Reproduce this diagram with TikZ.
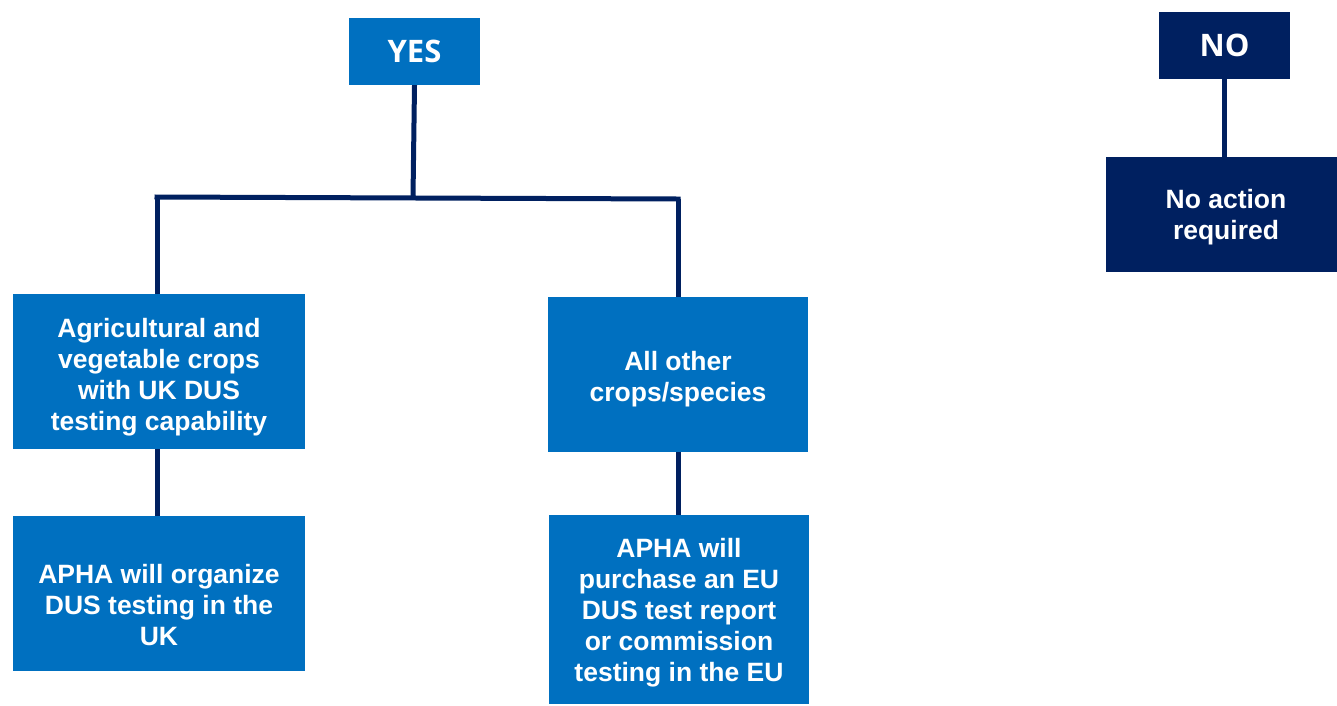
\documentclass[tikz,border=0pt]{standalone}
\usepackage{fontspec}
\setmainfont{Liberation Sans}
\newfontfamily\hdfont{Open Sans}
\definecolor{midblue}{HTML}{0070C0}
\definecolor{navy}{HTML}{002060}
\begin{document}
\begin{tikzpicture}[x=1pt,y=-1pt,
  box/.style={draw=none,fill=midblue,inner sep=0pt},
  navybox/.style={box,fill=navy},
  lbl/.style={text=white,font=\fontsize{26.5}{31}\selectfont\bfseries,align=center,inner sep=0pt},
  hd/.style={text=white,font=\hdfont\fontsize{31}{36}\selectfont\bfseries,inner sep=0pt},
  conn/.style={draw=navy,line width=5pt}]
\useasboundingbox (0,0) rectangle (1337,705);
\node[box,minimum width=131pt,minimum height=67pt,label={[hd]center:YES}] (yes) at (414.5,51.5) {};
\node[navybox,minimum width=131pt,minimum height=67pt,label={[hd]center:NO}] (no) at (1224.5,45.5) {};
\node[navybox,minimum width=240pt,minimum height=115pt,label={[lbl,yshift=-3pt]center:{No action\\required}}] (noact) at (1226,214.5) {};
\node[box,minimum width=292pt,minimum height=155pt,label={[lbl,yshift=-6pt]center:{Agricultural and\\vegetable crops\\with UK DUS\\testing capability}}] (agri) at (159,371.5) {};
\node[box,minimum width=292pt,minimum height=155pt,label={[lbl,yshift=-12pt]center:{APHA will organize\\DUS testing in the\\UK}}] (org) at (159,593.5) {};
\node[box,minimum width=260pt,minimum height=155pt,label={[lbl,yshift=-5pt]center:{All other\\crops/species}}] (other) at (678,374.5) {};
\node[box,minimum width=260pt,minimum height=189pt,label={[lbl,yshift=-3pt]center:{APHA will\\purchase an EU\\DUS test report\\or commission\\testing in the EU}}] (purch) at (679,609.5) {};
\coordinate (hl) at (157,197);
\coordinate (hr) at (678,199);
\coordinate (hm) at (413,197);
\draw[conn] (yes.south) -- (hm);
\draw[conn,line cap=rect] (hl) -- (hr);
\draw[conn] (hl) -- (agri.north -| hl);
\draw[conn] (hr) -- (other.north);
\draw[conn] (agri.south -| hl) -- (org.north -| hl);
\draw[conn] (other.south) -- (purch.north -| other.south);
\draw[conn] (no.south) -- (noact.north -| no.south);
\end{tikzpicture}
\end{document}
